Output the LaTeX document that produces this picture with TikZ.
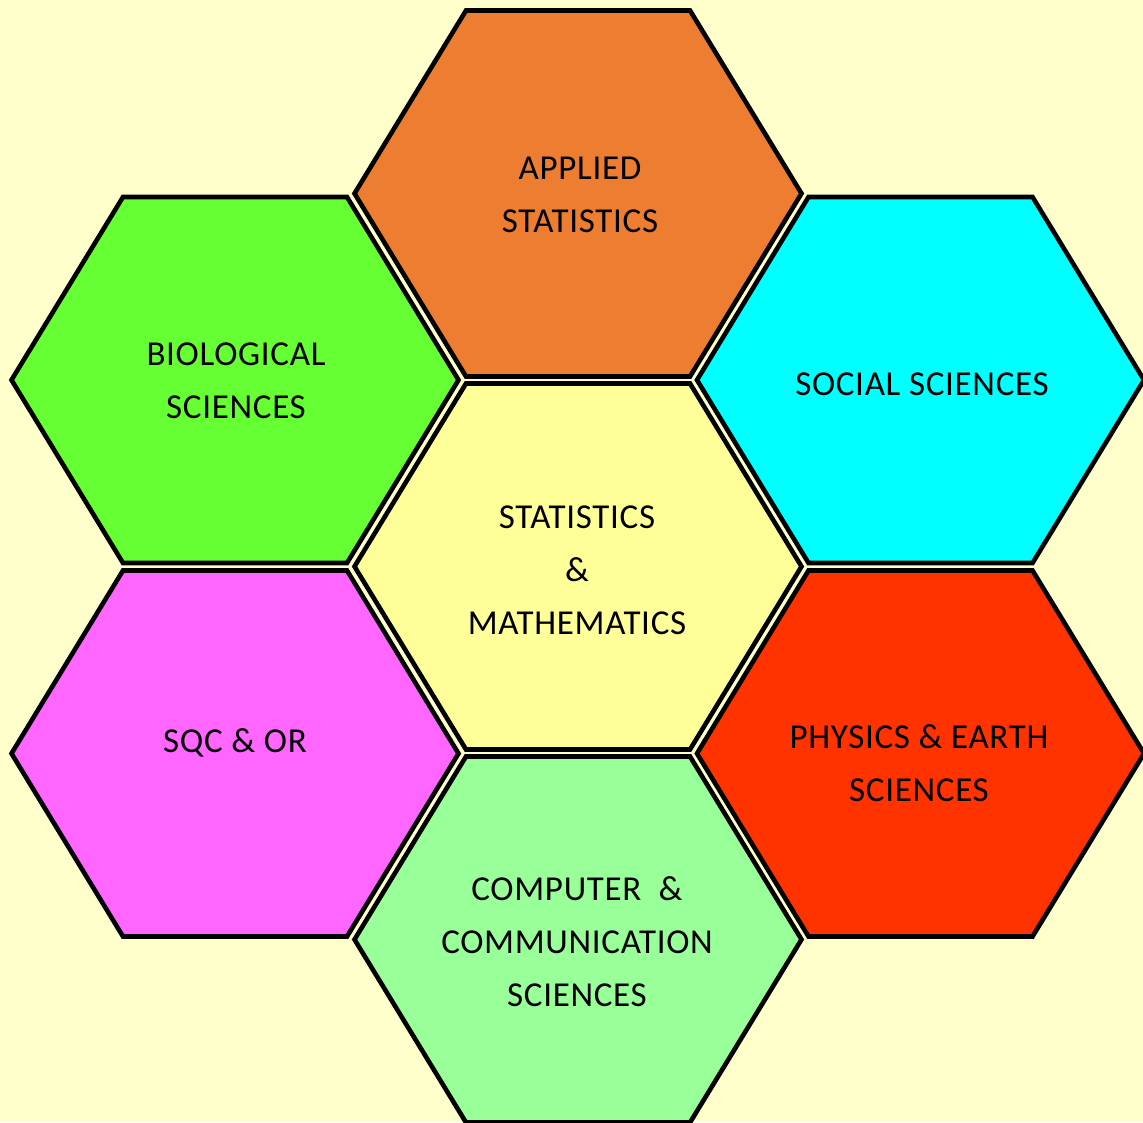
\documentclass[tikz,border=0pt]{standalone}
\usepackage{fontspec}
\setmainfont[LetterSpace=2]{Carlito}
\definecolor{bgcream}{HTML}{FFFFCC}
\definecolor{appliedorange}{HTML}{ED7D31}
\definecolor{bioGreen}{HTML}{66FF33}
\definecolor{socialcyan}{HTML}{00FFFF}
\definecolor{sqcpink}{HTML}{FF66FF}
\definecolor{mathyellow}{HTML}{FFFF99}
\definecolor{physred}{HTML}{FF3300}
\definecolor{compgreen}{HTML}{99FF99}
\tikzset{
  cell/.style={draw=black, line width=2.3pt, line join=miter},
  celltext/.style={align=center, font=\fontsize{17.5}{26.5}\selectfont}
}
\begin{document}
\begin{tikzpicture}[
  x=0.5pt, y=-0.5pt
]
\fill [bgcream] (0,0) rectangle (1143,1122);
\useasboundingbox (0,0) rectangle (1143,1122);

% the seven cells: centre x, centre y, fill
\foreach \cx/\cy/\col in {578/193.5/appliedorange, 235/380/bioGreen,
    920.5/380/socialcyan, 578/566.5/mathyellow, 235/753.5/sqcpink,
    920.5/753.5/physred, 578/939.5/compgreen}
{
  \draw [cell, fill=\col] ({\cx-223.5},\cy) -- ({\cx-112},{\cy-183})
    -- ({\cx+112},{\cy-183}) -- ({\cx+223.5},\cy)
    -- ({\cx+112},{\cy+183}) -- ({\cx-112},{\cy+183}) -- cycle;
}

\node [celltext] (applied) at (580,195) {APPLIED\\STATISTICS};
\node [celltext] (bio) at (236,381) {BIOLOGICAL\\SCIENCES};
\node [celltext] (social) at (922,384) {SOCIAL SCIENCES};
\node [celltext] (stats) at (577,570) {STATISTICS\\\&\\MATHEMATICS};
\node [celltext] (sqc) at (235,743) {SQC \& OR};
\node [celltext] (physics) at (919,763) {PHYSICS \& EARTH\\SCIENCES};
\node [celltext] (computer) at (577,942) {COMPUTER\ \ \&\\COMMUNICATION\\SCIENCES};
\end{tikzpicture}
\end{document}
